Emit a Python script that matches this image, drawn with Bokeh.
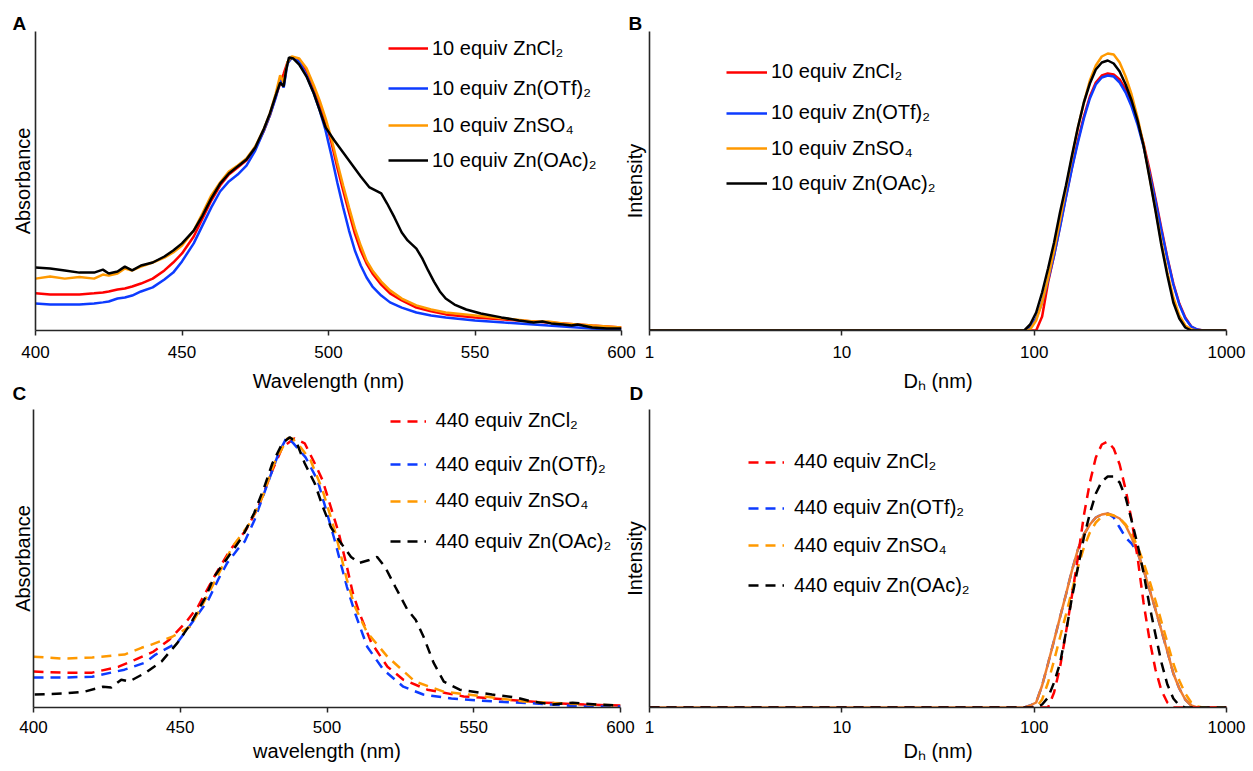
from bokeh.plotting import figure
from bokeh.models import (Range1d, FixedTicker, Legend, LegendItem, NumeralTickFormatter)
from bokeh.layouts import row, column
from bokeh.core.properties import value
from bokeh.embed import file_html
from bokeh.resources import INLINE

FONT = "Liberation Sans"

# ---------------- Panel A : UV-vis, 10 equiv (normalised absorbance) ----------------
wl_a = [400, 405, 410, 415, 420, 423, 425, 428, 430.5, 433, 436, 440, 444, 447, 450,
        454, 457, 460, 463, 466, 469, 472, 475, 478, 480, 482, 483.5, 484.7, 486, 487.5,
        490, 492.5, 495, 497, 499, 501, 503, 505, 507, 509, 511, 513, 515, 518, 521,
        525, 530, 535, 540, 550, 560, 570, 575, 580, 585, 590, 595, 600]
a_zncl2 = [13.6, 13.2, 13.2, 13.2, 13.6, 13.9, 14.3, 15.0, 15.4, 16.1, 17.2, 19.0, 22.0, 24.9, 28.2,
           34.4, 41.0, 47.6, 53.1, 57.1, 59.7, 62.3, 66.7, 73.3, 78.8, 85.7, 90.5, 94.1, 98.2, 100,
           99.3, 95.2, 89.0, 83.2, 76.6, 68.9, 59.7, 51.3, 43.2, 35.5, 29.3, 24.5, 20.9, 16.8, 13.6,
           11.0, 8.4, 7.0, 5.9, 4.8, 4.0, 3.3, 2.9, 2.6, 2.2, 1.8, 1.5, 1.1]
a_znotf2 = [9.9, 9.5, 9.5, 9.5, 9.9, 10.3, 10.6, 11.7, 12.1, 12.8, 14.3, 15.8, 18.7, 21.2, 25.3,
            31.9, 38.5, 45.1, 50.9, 54.6, 57.1, 60.4, 65.9, 73.3, 78.8, 85.3, 91.6, 89.0, 97.8, 100,
            98.5, 93.4, 86.8, 80.6, 73.3, 64.1, 54.2, 45.1, 36.6, 29.3, 23.8, 19.4, 16.1, 12.8, 10.3,
            8.4, 6.6, 5.5, 4.8, 3.7, 2.9, 2.2, 1.8, 1.5, 1.1, 0.7, 0.5, 0.4]
a_znso4 = [19.0, 19.8, 19.0, 19.6, 19.0, 20.5, 20.1, 20.9, 22.7, 22.0, 23.4, 24.9, 26.7, 28.6, 31.1,
           36.6, 42.9, 49.5, 54.2, 58.2, 60.4, 63.0, 67.4, 74.0, 79.5, 86.8, 93.5, 90.8, 98.2, 100.4,
           99.6, 96.0, 89.7, 84.2, 77.7, 70.3, 61.5, 53.1, 45.1, 37.4, 31.1, 25.6, 22.0, 17.9, 14.7,
           11.7, 9.2, 7.7, 6.6, 5.5, 4.4, 3.3, 3.3, 2.6, 2.2, 1.8, 1.5, 1.1]
wl_a_oac = [400, 405, 410, 415, 420, 423, 425, 428, 430.5, 433, 436, 440, 444, 447, 450,
            454, 457, 460, 463, 466, 469, 472, 475, 478, 480, 482, 483.5, 484.7, 485.5, 486.5,
            488, 490, 492.5, 495, 497, 499, 502, 505, 508, 511, 514, 516, 518, 520, 522.5,
            525, 527, 530, 532, 534, 536, 538, 540, 543, 547, 552, 559, 565, 570, 573,
            576, 580, 583, 585, 590, 595, 600]
a_znoac2 = [23.1, 22.7, 22.0, 21.2, 21.2, 22.3, 20.9, 21.6, 23.4, 22.0, 23.8, 24.9, 27.1, 29.3, 31.9,
            36.6, 42.1, 48.4, 53.8, 57.5, 60.1, 62.6, 67.0, 74.0, 79.5, 86.1, 90.8, 89.4, 95.2, 100,
            99.6, 97.4, 93.0, 86.8, 80.6, 74.4, 69.6, 65.2, 60.8, 56.4, 52.4, 51.3, 50.2, 46.5, 41.4,
            35.9, 33.0, 30.0, 26.4, 22.0, 17.9, 14.3, 11.7, 9.5, 7.7, 6.2, 4.8, 3.7, 2.9, 3.3,
            2.6, 2.2, 1.8, 2.2, 1.1, 0.7, 0.7]

# ---------------- Panel C : UV-vis, 440 equiv ----------------
wl_c_zncl2 = [400, 410, 420, 429, 434.7, 440.9, 446.3, 451.8, 456, 461.5, 467, 472.4, 476.6, 481.4,
              484.8, 488.9, 492.4, 495.8, 498.5, 501.3, 504, 506.8, 508.8, 511, 515.1, 520.6, 526,
              534.2, 546.6, 560.4, 574, 587.7, 600]
c_zncl2 = [13.3, 12.9, 12.9, 15.1, 17.7, 20.7, 25.1, 31.4, 37.3, 48.3, 58.3, 65.7, 74.2, 87.8,
           96.3, 99.6, 97.8, 90.4, 84.1, 74.2, 64.6, 52.0, 42.4, 35.1, 24.0, 15.1, 10.3,
           6.6, 4.1, 3.0, 1.8, 1.1, 0.7]
wl_c_znotf2 = [400, 410, 420, 431, 438, 441.6, 449, 453, 459.6, 463, 466, 469.5, 472, 475.3, 479.3,
               483.5, 486.3, 488.2, 492.7, 496.8, 499.7, 502.6, 506.8, 509.5, 513.7, 519.2, 526,
               532.8, 542.4, 557.4, 571, 586, 600]
c_znotf2 = [11.1, 11.1, 11.4, 14.0, 16.6, 19.6, 24.0, 29.9, 39.9, 47.5, 53.5, 58.5, 61.5, 69.4, 81.5,
            94.1, 100, 98.2, 92.6, 84.1, 73.1, 62.0, 44.6, 35.1, 22.5, 14.0, 7.7,
            4.8, 3.3, 2.2, 1.5, 0.4, 0.4]
wl_c_znso4 = [400, 410, 420, 431, 436.8, 440, 447.3, 453.3, 456.7, 460.8, 467.7, 473.8, 478, 482,
              486.5, 488.2, 491, 494.4, 498.5, 502.6, 506.8, 509.5, 513.7, 520.6, 530, 539.7, 553.5,
              567, 580.8, 600]
c_znso4 = [18.8, 18.1, 18.5, 19.6, 22.1, 23.2, 26.2, 29.9, 36.2, 44.6, 59.4, 68.3, 77.9, 90.4,
           99.6, 99.6, 96.3, 91.5, 80.4, 65.7, 47.2, 37.3, 27.7, 18.8, 9.6, 5.9, 4.1,
           2.2, 1.5, 0.7]
wl_c_znoac2 = [400.4, 410.7, 417.5, 423.7, 426.5, 429.9, 432.6, 438.2, 443.6, 449.1, 453.3, 458.7,
               461.5, 466.3, 471.1, 475.2, 478.6, 481.4, 484.8, 487.3, 489.6, 492.4, 495.8, 498.6,
               501.3, 504, 508.2, 510.9, 514.4, 517.1, 519.8, 523.3, 527.4, 530.2, 532.9, 536.3,
               539.8, 545.2, 556.2, 564.4, 569.9, 576.8, 583.7, 591.9, 600]
c_znoac2 = [4.8, 5.2, 5.9, 7.7, 7.4, 10.3, 9.6, 12.9, 17.0, 24.0, 30.6, 41.0,
            48.3, 55.7, 63.1, 72.0, 81.5, 90.4, 97.8, 100, 98.2, 90.4, 83.0, 74.2,
            66.8, 62.0, 55.7, 53.5, 54.6, 55.7, 52.0, 44.6, 36.2, 32.5, 26.2, 16.6,
            9.6, 6.6, 4.8, 3.7, 2.2, 1.1, 1.8, 1.1, 0.7]

# ---------------- Panels B / D : DLS size distributions (intensity %) ----------------
dh_nm = [1, 10, 50, 80,
         88.8, 95.3, 102.4, 110.0, 118.1, 126.9, 136.2, 146.3, 157.2, 168.8, 181.3, 194.8,
         209.2, 224.7, 241.3, 259.1, 278.3, 298.9, 321.0, 344.8, 370.3, 397.7, 427.2, 458.8,
         492.7, 529.2, 568.4, 610.4, 655.6, 704.1, 756.2,
         820, 900, 1000]
b_zncl2 = [0, 0, 0, 0,
           0, 0, 0, 0.7, 2.4, 3.75, 5.2, 6.7, 8.15, 9.5, 10.7, 11.7, 12.4, 12.75, 12.85, 12.8,
           12.55, 12.05, 11.35, 10.45, 9.35, 8.05, 6.6, 5.1, 3.65, 2.35, 1.35, 0.65, 0.2, 0.05, 0,
           0, 0, 0]
b_znotf2 = [0, 0, 0, 0,
            0, 0.15, 0.6, 1.4, 2.5, 3.75, 5.15, 6.65, 8.1, 9.4, 10.6, 11.6, 12.3, 12.65, 12.75, 12.7,
            12.4, 11.9, 11.2, 10.3, 9.2, 7.9, 6.5, 5.0, 3.6, 2.3, 1.3, 0.6, 0.2, 0.05, 0,
            0, 0, 0]
b_znso4 = [0, 0, 0, 0,
           0, 0.05, 0.5, 1.4, 2.6, 4.0, 5.5, 7.1, 8.65, 10.15, 11.4, 12.5, 13.25, 13.7, 13.85, 13.8,
           13.4, 12.7, 11.8, 10.65, 9.3, 7.7, 6.05, 4.4, 2.9, 1.65, 0.75, 0.25, 0.05, 0, 0,
           0, 0, 0]
b_znoac2 = [0, 0, 0, 0,
            0, 0.3, 0.9, 1.9, 3.1, 4.4, 5.9, 7.25, 8.75, 10.15, 11.4, 12.35, 13.05, 13.4, 13.5, 13.35,
            12.95, 12.3, 11.5, 10.5, 9.25, 7.65, 6.0, 4.25, 2.75, 1.4, 0.6, 0.15, 0, 0, 0,
            0, 0, 0]
d_zncl2 = [0, 0, 0, 0,
           0, 0, 0, 0, 0, 0.75, 2.0, 3.75, 5.6, 7.5, 9.6, 11.25, 12.5, 13.15, 13.3, 12.95,
           12.15, 10.9, 9.4, 7.5, 5.25, 3.4, 1.9, 0.85, 0.25, 0, 0, 0, 0, 0, 0,
           0, 0, 0]
d_znotf2 = [0, 0, 0, 0,
            0, 0.1, 0.25, 1.1, 2.2, 3.35, 4.5, 5.65, 6.85, 7.9, 8.65, 9.15, 9.5, 9.65, 9.7, 9.5,
            9.0, 8.5, 8.2, 7.75, 6.9, 5.9, 4.9, 3.85, 2.8, 1.7, 0.95, 0.4, 0.1, 0, 0,
            0, 0, 0]
d_extra_solid = [0, 0, 0, 0,
                 0, 0.1, 0.25, 1.1, 2.2, 3.35, 4.5, 5.65, 6.85, 7.9, 8.65, 9.15, 9.5, 9.65, 9.7, 9.6,
                 9.45, 9.1, 8.5, 7.75, 6.9, 5.9, 4.9, 3.85, 2.8, 1.7, 0.95, 0.4, 0.1, 0, 0,
                 0, 0, 0]
d_znso4 = [0, 0, 0, 0,
           0, 0, 0, 0.4, 1.25, 2.35, 3.5, 4.65, 5.85, 7.0, 8.0, 8.75, 9.25, 9.55, 9.65, 9.6,
           9.45, 9.15, 8.7, 8.05, 7.25, 6.35, 5.35, 4.3, 3.25, 2.2, 1.35, 0.7, 0.25, 0.05, 0,
           0, 0, 0]
d_znoac2 = [0, 0, 0, 0,
            0, 0, 0, 0.15, 0.5, 1.25, 2.2, 3.75, 5.5, 7.0, 8.5, 9.7, 10.7, 11.3, 11.55, 11.55,
            11.25, 10.5, 9.35, 8.15, 6.75, 5.1, 3.65, 2.25, 1.15, 0.45, 0.1, 0, 0, 0, 0,
            0, 0, 0]

labels_10 = ["10 equiv ZnCl\u2082", "10 equiv Zn(OTf)\u2082", "10 equiv ZnSO\u2084", "10 equiv Zn(OAc)\u2082"]
labels_440 = ["440 equiv ZnCl\u2082", "440 equiv Zn(OTf)\u2082", "440 equiv ZnSO\u2084", "440 equiv Zn(OAc)\u2082"]

RED, BLUE, ORANGE, BLACK, SOLID_OR = "#FF0000", "#0D3BFF", "#FF9900", "#000000", "#ED7D31"
AX = "#262626"
DASH = "10 7"


def make_fig(fig_w, fig_h, left, top, fw, fh, xr, yr, xtype, ticks, xlabel, ylabel, ystand,
             letter, letter_off, letter_stand, margin, tick_stand, xlab_stand):
    p = figure(width=fig_w, height=fig_h, x_axis_type=xtype, x_range=xr, y_range=yr,
               output_backend="svg", toolbar_location=None, margin=margin,
               min_border_left=left, min_border_right=fig_w - left - fw,
               min_border_top=top, min_border_bottom=fig_h - top - fh)
    p.border_fill_color = None
    p.background_fill_color = None
    p.outline_line_color = None
    p.xgrid.visible = False
    p.ygrid.visible = False
    # panel letter
    p.title.text = letter
    p.title.align = "left"
    p.title.offset = letter_off
    p.title.standoff = letter_stand
    p.title.text_font = FONT
    p.title.text_font_size = "19px"
    p.title.text_font_style = "bold"
    p.title.text_color = "#000000"
    xa = p.xaxis[0]
    xa.ticker = FixedTicker(ticks=ticks, minor_ticks=[])
    xa.axis_line_color = AX
    xa.axis_line_width = 1.6
    xa.major_tick_line_color = AX
    xa.major_tick_line_width = 1.5
    xa.major_tick_out = 5
    xa.major_tick_in = 0
    xa.minor_tick_line_color = None
    xa.major_label_standoff = tick_stand
    xa.major_label_text_font = FONT
    xa.major_label_text_font_size = "17px"
    xa.major_label_text_color = "#000000"
    xa.axis_label = xlabel
    xa.axis_label_standoff = xlab_stand
    xa.axis_label_text_font = FONT
    xa.axis_label_text_font_size = "20px"
    xa.axis_label_text_font_style = "normal"
    xa.axis_label_text_color = "#000000"
    if xtype == "log":
        xa.formatter = NumeralTickFormatter(format="0")
    ya = p.yaxis[0]
    ya.ticker = FixedTicker(ticks=[], minor_ticks=[])
    ya.axis_line_color = AX
    ya.axis_line_width = 1.6
    ya.major_tick_line_color = None
    ya.minor_tick_line_color = None
    ya.major_label_text_font_size = "0px"
    ya.major_tick_out = 0
    ya.major_label_standoff = 0
    ya.axis_label = ylabel
    ya.axis_label_standoff = ystand
    ya.axis_label_text_font = FONT
    ya.axis_label_text_font_size = "20px"
    ya.axis_label_text_font_style = "normal"
    ya.axis_label_text_color = "#000000"
    return p


def add_legend(p, r, label, vx, vy, gw, standoff):
    p.add_layout(Legend(items=[LegendItem(label=value(label), renderers=[r])], location=(vx, vy),
                        padding=0, margin=0, spacing=0, glyph_width=gw, glyph_height=24,
                        label_height=24, label_standoff=standoff, border_line_color=None,
                        background_fill_alpha=0, label_text_font=FONT, label_text_font_size="20px",
                        label_text_color="#000000"))


DH_LABEL = "D\u2095 (nm)"

# ---- A ---- canvas x 0..642, y 0..402 ; frame x 35..621, y 31..330
pA = make_fig(642, 402, 35, 31, 586, 299, Range1d(400, 600), Range1d(0, 109.5), "linear",
              [400, 450, 500, 550, 600], "Wavelength (nm)", "Absorbance", 2,
              "A", -23, -4, (0, 0, 0, 0), 10, 9)
rA = [pA.line(wl_a, a_zncl2, line_color=RED, line_width=2.5),
      pA.line(wl_a, a_znotf2, line_color=BLUE, line_width=2.5),
      pA.line(wl_a, a_znso4, line_color=ORANGE, line_width=2.5),
      pA.line(wl_a_oac, a_znoac2, line_color=BLACK, line_width=2.5)]
for r, lab, vy in zip(rA, labels_10, [269.7, 229.7, 193, 158]):
    add_legend(pA, r, lab, 353, vy, 40, 4)

# ---- B ---- canvas x 620..1253, y 0..402 ; frame x 647..1226, y 31..330
pB = make_fig(633, 402, 27, 31, 579, 299, Range1d(1, 1000), Range1d(0, 14.95), "log",
              [1, 10, 100, 1000], DH_LABEL, "Intensity", 4,
              "B", -21, -4, (0, 0, 0, -22), 10, 9)
rB = [pB.line(dh_nm, b_zncl2, line_color=RED, line_width=2.5),
      pB.line(dh_nm, b_znotf2, line_color=BLUE, line_width=2.5),
      pB.line(dh_nm, b_znso4, line_color=ORANGE, line_width=2.5),
      pB.line(dh_nm, b_znoac2, line_color=BLACK, line_width=2.5)]
for r, lab, vy in zip(rB, labels_10, [246.3, 205.3, 169.7, 134.7]):
    add_legend(pB, r, lab, 77, vy, 41, 4)

# ---- C ---- canvas x 0..642, y 370..771 ; frame x 33..620, y 409..708
pC = make_fig(642, 401, 33, 39, 587, 299, Range1d(400, 600), Range1d(0, 110.3), "linear",
              [400, 450, 500, 550, 600], "wavelength (nm)", "Absorbance", 0,
              "C", -21, 12, (-32, 0, 0, 0), 8, 4)
rC = [pC.line(wl_c_zncl2, c_zncl2, line_color=RED, line_width=2.5, line_dash=DASH),
      pC.line(wl_c_znotf2, c_znotf2, line_color=BLUE, line_width=2.5, line_dash=DASH),
      pC.line(wl_c_znso4, c_znso4, line_color=ORANGE, line_width=2.5, line_dash=DASH),
      pC.line(wl_c_znoac2, c_znoac2, line_color=BLACK, line_width=2.5, line_dash=DASH)]
for r, lab, vy in zip(rC, labels_440, [274.5, 231, 194.3, 153.7]):
    add_legend(pC, r, lab, 356.6, vy, 36, 10)

# ---- D ---- canvas x 620..1253, y 370..771 ; frame x 647..1226, y 409..707
pD = make_fig(633, 401, 27, 39, 579, 298, Range1d(1, 1000), Range1d(0, 14.9), "log",
              [1, 10, 100, 1000], DH_LABEL, "Intensity", 4,
              "D", -20, 12, (-32, 0, 0, -22), 8, 4)
rD_blue = pD.line(dh_nm, d_znotf2, line_color=BLUE, line_width=2.5, line_dash=DASH)
pD.line(dh_nm, d_extra_solid, line_color=SOLID_OR, line_width=2.5)
rD_or = pD.line(dh_nm, d_znso4, line_color=ORANGE, line_width=2.5, line_dash=DASH)
rD_red = pD.line(dh_nm, d_zncl2, line_color=RED, line_width=2.5, line_dash=DASH)
rD_blk = pD.line(dh_nm, d_znoac2, line_color=BLACK, line_width=2.5, line_dash=DASH)
for r, lab, vy in zip([rD_red, rD_blue, rD_or, rD_blk], labels_440, [233.3, 187.3, 150, 110]):
    add_legend(pD, r, lab, 99, vy, 36, 10)

page = column(row(pA, pB), row(pC, pD))

with open("out.html", "w") as f:
    f.write(file_html(page, INLINE))
